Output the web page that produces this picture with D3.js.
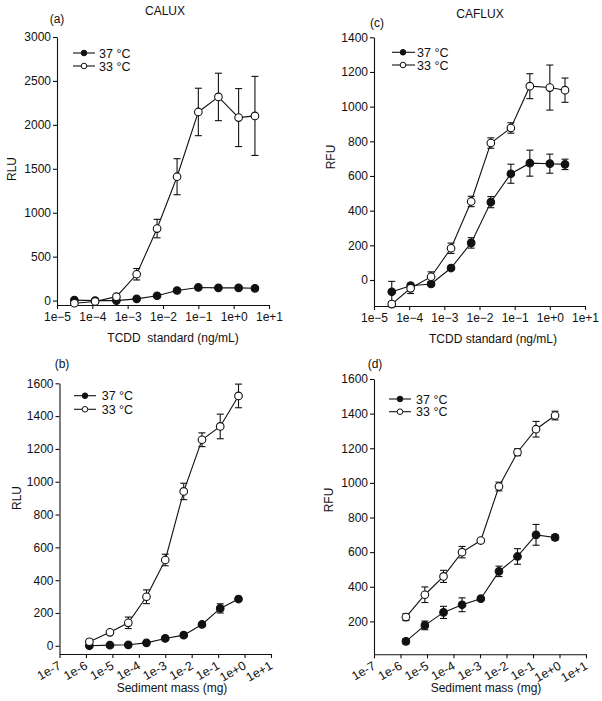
<!DOCTYPE html>
<html><head><meta charset="utf-8">
<script src="https://cdn.jsdelivr.net/npm/d3@7"></script>
<style>
body{margin:0;background:#fff}
svg text{font-family:Arial,"Liberation Sans",Helvetica,sans-serif;fill:#111}
</style>
</head><body>
<svg id="chart" width="602" height="701"></svg>
<script>
// ---------- data ----------
const seriesNames = ["37 °C", "33 °C"];

// (a) CALUX, TCDD standard
const xA = [3.1e-5, 1.2e-4, 4.8e-4, 1.8e-3, 6.8e-3, 0.025, 0.1, 0.37, 1.38, 4.0];
const a37 = [5, 0, 0, 20, 55, 115, 150, 145, 145, 140];
const a37err = [10, 10, 10, 10, 12, 15, 15, 15, 15, 15];
const a33 = [-30, -10, 45, 300, 820, 1410, 2147, 2318, 2083, 2102];
const a33err = [15, 15, 20, 65, 105, 205, 270, 270, 330, 450];

// (c) CAFLUX, TCDD standard
const xC = [3.2e-5, 1.1e-4, 4.2e-4, 1.55e-3, 5.8e-3, 0.021, 0.078, 0.27, 1.0, 2.7];
const c37 = [-68, -33, -23, 69, 214, 449, 613, 674, 671, 667];
const c37err = [60, 10, 10, 10, 30, 32, 55, 75, 55, 30];
const c33 = [-139, -48, 19, 183, 453, 790, 877, 1118, 1110, 1095];
const c33err = [15, 30, 28, 30, 30, 30, 30, 72, 130, 70];

// (b) CALUX, sediment
const xB = [1.35e-6, 8.1e-6, 4.0e-5, 1.95e-4, 1.0e-3, 5.0e-3, 0.0245, 0.12, 0.59];
const b37 = [0, 4, 6, 18, 45, 65, 130, 228, 285];
const b37err = [5, 5, 5, 5, 8, 8, 10, 28, 10];
const b33 = [24, 82, 140, 299, 523, 941, 1256, 1337, 1523];
const b33err = [15, 10, 35, 42, 35, 50, 42, 75, 72];

// (d) CAFLUX, sediment
const xD = [1.6e-6, 8.3e-6, 4.2e-5, 2.1e-4, 1.07e-3, 5.2e-3, 0.026, 0.13, 0.68];
const d37 = [85, 177, 252, 296, 331, 489, 575, 700, 685];
const d37err = [15, 25, 35, 40, 10, 30, 45, 60, 15];
const d33 = [225, 354, 460, 600, 667, 979, 1177, 1310, 1389];
const d33err = [20, 45, 35, 33, 10, 25, 20, 45, 25];

// tick labels
const stdTickVals = [1e-5, 1e-4, 1e-3, 1e-2, 1e-1, 1e0, 1e1];
const stdTickLabels = ["1e\u22125", "1e\u22124", "1e\u22123", "1e\u22122", "1e\u22121", "1e+0", "1e+1"];
const sedTickVals = [1e-7, 1e-6, 1e-5, 1e-4, 1e-3, 1e-2, 1e-1, 1e0, 1e1];
const sedTickLabels = ["1e-7", "1e-6", "1e-5", "1e-4", "1e-3", "1e-2", "1e-1", "1e+0", "1e+1"];
const yTicksA = [0, 500, 1000, 1500, 2000, 2500, 3000];
const yTicksC = [0, 200, 400, 600, 800, 1000, 1200, 1400];
const yTicksB = [0, 200, 400, 600, 800, 1000, 1200, 1400, 1600];
const yTicksD = [200, 400, 600, 800, 1000, 1200, 1400, 1600];

// ---------- layout ----------
const panels = [
  {tag:"(a)", tagPos:[57,23], title:"CALUX", titlePos:[165,15],
   xs:xA, s37:a37, e37:a37err, s33:a33, e33:a33err,
   xDomain:[1e-5,1e1], xRange:[57,269], yDomain:[-50,3000], yRange:[305,37],
   yTicks:yTicksA, xTickVals:stdTickVals, xTickLabels:stdTickLabels, rotate:false,
   yLabel:"RLU", yLabelPos:[16,169], xLabel:"TCDD  standard (ng/mL)", xLabelPos:[173,342],
   legend:{x0:73, x1:95, xm:84, xt:99, y:[53,66]}},
  {tag:"(c)", tagPos:[377,27], title:"CAFLUX", titlePos:[480,18],
   xs:xC, s37:c37, e37:c37err, s33:c33, e33:c33err,
   xDomain:[1e-5,1e1], xRange:[374,585], yDomain:[-150,1400], yRange:[306,37.3],
   yTicks:yTicksC, xTickVals:stdTickVals, xTickLabels:stdTickLabels, rotate:false,
   yLabel:"RFU", yLabelPos:[335,157], xLabel:"TCDD standard (ng/mL)", xLabelPos:[493,343],
   legend:{x0:392, x1:415, xm:403, xt:417, y:[52.3,65]}},
  {tag:"(b)", tagPos:[62,368], title:null,
   xs:xB, s37:b37, e37:b37err, s33:b33, e33:b33err,
   xDomain:[1e-7,1e1], xRange:[59.5,271], yDomain:[-50,1600], yRange:[654,383.3],
   yTicks:yTicksB, xTickVals:sedTickVals, xTickLabels:sedTickLabels, rotate:true,
   yLabel:"RLU", yLabelPos:[21,498], xLabel:"Sediment mass (mg)", xLabelPos:[172,692],
   legend:{x0:74, x1:96, xm:85, xt:101.7, y:[395.7,409.3]}},
  {tag:"(d)", tagPos:[375,368], title:null,
   xs:xD, s37:d37, e37:d37err, s33:d33, e33:d33err,
   xDomain:[1e-7,1e1], xRange:[374,586], yDomain:[10,1600], yRange:[654.3,379],
   yTicks:yTicksD, xTickVals:sedTickVals, xTickLabels:sedTickLabels, rotate:true,
   yLabel:"RFU", yLabelPos:[333,500], xLabel:"Sediment mass (mg)", xLabelPos:[486,692],
   legend:{x0:389, x1:411, xm:400, xt:416, y:[399,411.7]}}
];

const svg = d3.select("#chart");
const tickFont = 12;

panels.forEach(p => {
  const x = d3.scaleLog().domain(p.xDomain).range(p.xRange);
  const y = d3.scaleLinear().domain(p.yDomain).range(p.yRange);
  const g = svg.append("g");

  // y axis
  const ya = g.append("g").attr("transform", `translate(${p.xRange[0]},0)`)
    .call(d3.axisLeft(y).tickValues(p.yTicks).tickFormat(d3.format("d"))
      .tickSize(4).tickSizeOuter(0).tickPadding(2));
  // x axis
  const xa = g.append("g").attr("transform", `translate(0,${p.yRange[0]})`)
    .call(d3.axisBottom(x).tickValues(p.xTickVals).tickFormat((d,i)=>p.xTickLabels[i])
      .tickSize(4).tickSizeOuter(0).tickPadding(3));
  [ya, xa].forEach(a => {
    a.select(".domain").attr("stroke","#111").attr("stroke-width",1.1);
    a.selectAll(".tick line").attr("stroke","#111").attr("stroke-width",1.1);
    a.selectAll("text").attr("font-size", tickFont).attr("fill","#111")
      .attr("font-family","Arial,'Liberation Sans',sans-serif");
  });
  if (p.rotate) {
    xa.selectAll(".tick text")
      .attr("font-size", 12.5)
      .attr("text-anchor","end").attr("x",0).attr("y",0).attr("dy",0)
      .attr("transform","translate(2,14) rotate(-30)");
  }

  // series
  const series = [
    {vals:p.s37, errs:p.e37, fill:"#111"},
    {vals:p.s33, errs:p.e33, fill:"#fff"}
  ];
  const line = d3.line().x(d=>x(d.x)).y(d=>y(d.y));
  series.forEach(s => {
    const pts = p.xs.map((xv,i)=>({x:xv, y:s.vals[i], e:s.errs[i]}));
    g.append("path").datum(pts).attr("d", line)
      .attr("fill","none").attr("stroke","#111").attr("stroke-width",1.1);
    const eb = g.append("g").attr("stroke","#111").attr("stroke-width",1.1);
    pts.forEach(d => {
      const cx = x(d.x), yt = y(d.y + d.e), yb = y(d.y - d.e);
      eb.append("line").attr("x1",cx).attr("x2",cx).attr("y1",yt).attr("y2",yb);
      eb.append("line").attr("x1",cx-3.5).attr("x2",cx+3.5).attr("y1",yt).attr("y2",yt);
      eb.append("line").attr("x1",cx-3.5).attr("x2",cx+3.5).attr("y1",yb).attr("y2",yb);
    });
  });
  series.forEach(s => {
    const pts = p.xs.map((xv,i)=>({x:xv, y:s.vals[i]}));
    g.append("g").selectAll("circle").data(pts).join("circle")
      .attr("cx", d=>x(d.x)).attr("cy", d=>y(d.y)).attr("r", 3.8)
      .attr("fill", s.fill).attr("stroke","#111").attr("stroke-width",1.1);
  });

  // legend
  seriesNames.forEach((name,i) => {
    const ly = p.legend.y[i];
    g.append("line").attr("x1",p.legend.x0).attr("x2",p.legend.x1).attr("y1",ly).attr("y2",ly)
      .attr("stroke","#111").attr("stroke-width",1.1);
    g.append("circle").attr("cx",p.legend.xm).attr("cy",ly).attr("r",2.8)
      .attr("fill", i===0 ? "#111" : "#fff").attr("stroke","#111").attr("stroke-width",1);
    g.append("text").attr("x",p.legend.xt).attr("y",ly).attr("dy","0.36em")
      .attr("font-size",12.5).text(name);
  });

  // labels
  g.append("text").attr("x",p.tagPos[0]).attr("y",p.tagPos[1]).attr("text-anchor","middle")
    .attr("font-size",12).text(p.tag);
  if (p.title) g.append("text").attr("x",p.titlePos[0]).attr("y",p.titlePos[1])
    .attr("text-anchor","middle").attr("font-size",12).text(p.title);
  g.append("text").attr("transform",`translate(${p.yLabelPos[0]},${p.yLabelPos[1]}) rotate(-90)`)
    .attr("text-anchor","middle").attr("font-size",12).text(p.yLabel);
  g.append("text").attr("x",p.xLabelPos[0]).attr("y",p.xLabelPos[1]).attr("text-anchor","middle")
    .attr("font-size",12).attr("xml:space","preserve").style("white-space","pre").text(p.xLabel);
});
</script>
</body></html>
